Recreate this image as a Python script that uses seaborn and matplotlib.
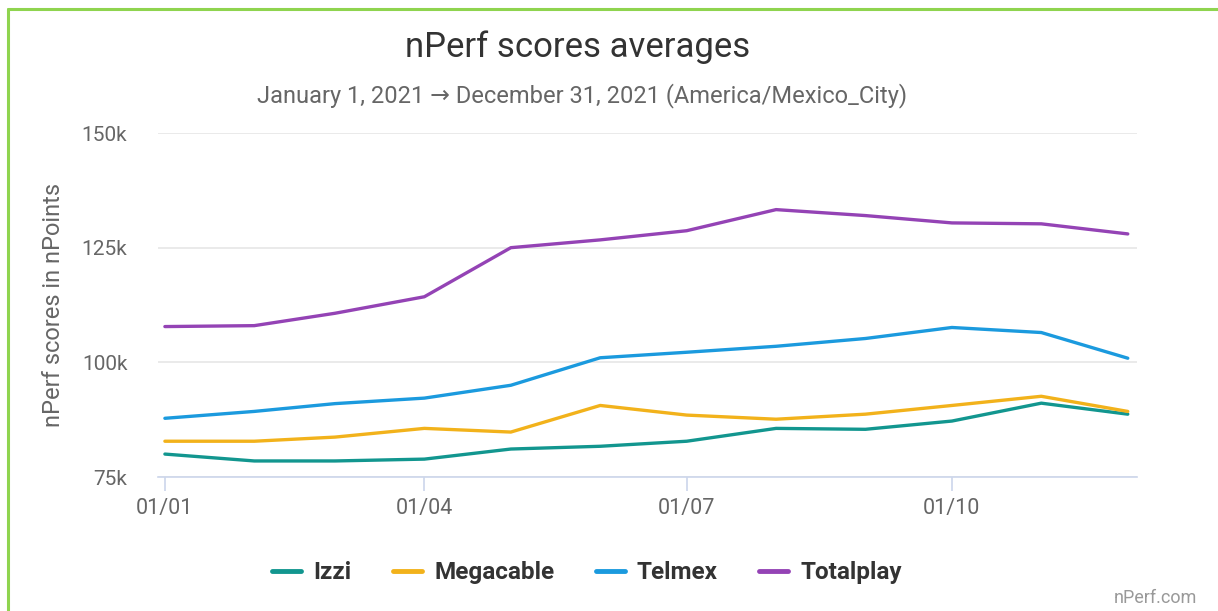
import pandas as pd
import numpy as np
import matplotlib
matplotlib.use('Agg')
import matplotlib.pyplot as plt
import matplotlib.dates as mdates
from matplotlib.lines import Line2D
import seaborn as sns

# Monthly averages (first day of each month)
months = pd.date_range('2021-01-01', periods=12, freq='MS')
izzi = [80.0, 78.5, 78.5, 78.9, 81.1, 81.7, 82.8, 85.6, 85.4, 87.2, 91.1, 88.7]
megacable = [82.8, 82.8, 83.7, 85.6, 84.8, 90.6, 88.5, 87.6, 88.7, 90.6, 92.6, 89.3]
telmex = [87.8, 89.3, 91.0, 92.2, 95.0, 101.0, 102.2, 103.5, 105.2, 107.6, 106.5, 100.9]
totalplay = [107.8, 108.0, 110.7, 114.3, 125.0, 126.7, 128.7, 133.3, 132.0, 130.4, 130.2, 128.0]

operators = ['Izzi', 'Megacable', 'Telmex', 'Totalplay']
colors = ['#12968f', '#f2b21b', '#1b9ade', '#9443b5']

df = pd.DataFrame({
    'date': np.tile(months, 4),
    'operator': np.repeat(operators, 12),
    'score': np.array(izzi + megacable + telmex + totalplay) * 1000,
})

sns.set_theme(style='white')
plt.rcParams['font.family'] = ['Roboto', 'DejaVu Sans']

fig = plt.figure(figsize=(12.18, 6.11), dpi=100)
ax = fig.add_axes([0.1297, 0.2193, 0.8038, 0.563])

sns.lineplot(data=df, x='date', y='score', hue='operator', palette=colors,
             linewidth=2.4, ax=ax, legend=False, solid_capstyle='round',
             solid_joinstyle='round')

ax.set_ylim(75000, 150000)
ax.set_yticks([75000, 100000, 125000, 150000])
ax.set_yticklabels(['75k', '100k', '125k', '150k'])
ax.set_xlim(months[0] - pd.Timedelta(days=2.4), months[-1] + pd.Timedelta(days=3.2))
ax.xaxis.set_major_locator(mdates.MonthLocator(bymonth=[1, 4, 7, 10]))
ax.xaxis.set_major_formatter(mdates.DateFormatter('%d/%m'))

ax.grid(axis='y', color='#e6e6e6', linewidth=1.2)
ax.set_axisbelow(True)
for side in ['top', 'right', 'left']:
    ax.spines[side].set_visible(False)
ax.spines['bottom'].set_color('#ccd6eb')
ax.spines['bottom'].set_linewidth(1.2)
ax.tick_params(axis='x', colors='#ccd6eb', length=10, width=1.2, labelcolor='#666666',
               labelsize=15.5, pad=5, bottom=True)
ax.tick_params(axis='y', length=0, labelcolor='#666666', labelsize=15, pad=22)

ax.set_xlabel('')
ax.set_ylabel('nPerf scores in nPoints', color='#666666', fontsize=17, labelpad=12)

fig.text(0.474, 0.922, 'nPerf scores averages', ha='center', va='center',
         fontsize=25, color='#333333')
fig.text(0.478, 0.843, 'January 1, 2021 \u2192 December 31, 2021 (America/Mexico_City)',
         ha='center', va='center', fontsize=17, color='#666666')

handles = [Line2D([0], [0], color=c, linewidth=3.5) for c in colors]
fig.legend(handles, operators, loc='center', bbox_to_anchor=(0.482, 0.063), ncol=4,
           frameon=False, handlelength=1.2, columnspacing=1.7, handletextpad=0.5,
           prop={'weight': 'bold', 'size': 17.5})
for t in fig.legends[0].get_texts():
    t.set_color('#333333')

fig.text(0.983, 0.021, 'nPerf.com', ha='right', va='center', fontsize=13, color='#999999')

# green frame (top and left edges)
fig.add_artist(Line2D([0.0068, 1.0], [0.9845, 0.9845], color='#8fd44f', linewidth=2.2,
                      transform=fig.transFigure))
fig.add_artist(Line2D([0.0068, 0.0068], [0.0, 0.9845], color='#8fd44f', linewidth=2.2,
                      transform=fig.transFigure))

fig.savefig('out.png', dpi=100, facecolor='white')
